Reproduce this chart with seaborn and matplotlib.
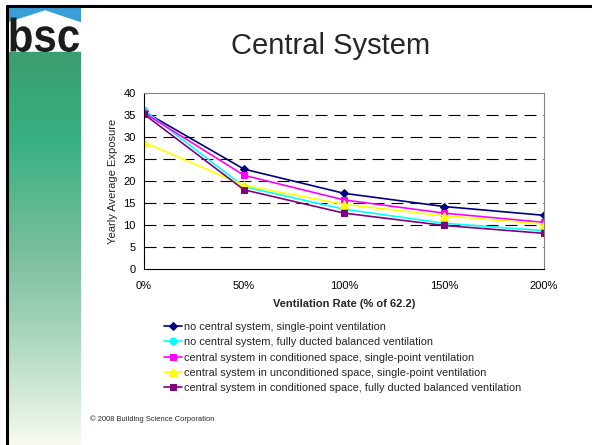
import numpy as np
import pandas as pd
import matplotlib
matplotlib.use("Agg")
import matplotlib.pyplot as plt
import seaborn as sns
from matplotlib.patches import Rectangle, Polygon, PathPatch
from matplotlib.lines import Line2D
from matplotlib.textpath import TextPath
from matplotlib.font_manager import FontProperties
from matplotlib.transforms import Affine2D

rates = [0, 50, 100, 150, 200]
rate_labels = ["0%", "50%", "100%", "150%", "200%"]
series_names = [
    "no central system, single-point ventilation",
    "no central system, fully ducted balanced ventilation",
    "central system in conditioned space, single-point ventilation",
    "central system in unconditioned space, single-point ventilation",
    "central system in conditioned space, fully ducted balanced ventilation",
]
s_nocentral_single = [35.8, 22.7, 17.2, 14.2, 12.2]
s_nocentral_ducted = [36.1, 18.7, 13.6, 10.4, 8.7]
s_cond_single = [35.5, 21.3, 15.7, 12.7, 10.6]
s_uncond_single = [28.8, 19.0, 14.7, 12.1, 10.2]
s_cond_ducted = [35.2, 18.0, 12.7, 9.9, 8.1]
values = [s_nocentral_single, s_nocentral_ducted, s_cond_single, s_uncond_single, s_cond_ducted]

colors = ["#000080", "#00FFFF", "#FF00FF", "#FFFF00", "#800080"]
markers = ["D", "o", "s", "^", "s"]
msizes = [4, 5, 5, 5.5, 5]

sns.set_style("white")
plt.rcParams["font.family"] = ["Liberation Sans", "DejaVu Sans"]

W, H = 592, 445
fig = plt.figure(figsize=(W / 100, H / 100), dpi=100)


def fx(px):
    return px / W


def fy(py):
    return 1 - py / H


# slide border
fig.add_artist(Line2D([fx(7), fx(592)], [fy(6), fy(6)], color="black", lw=2.2, transform=fig.transFigure))
fig.add_artist(Line2D([fx(7), fx(7)], [fy(6), fy(445)], color="black", lw=2.2, transform=fig.transFigure))

# sidebar gradient (pixels 55..445)
sb = fig.add_axes([fx(8), 0, fx(81) - fx(8), fy(55)])
sb.set_axis_off()
ypix = np.linspace(55, 445, 300)
stops_y = [55, 90, 140, 250, 330, 400, 445]
stops_c = np.array([
    [0x3b, 0x9e, 0x70],
    [0x3a, 0xa6, 0x78],
    [0x38, 0xb0, 0x82],
    [0x78, 0xbe, 0x9c],
    [0xa6, 0xd4, 0xbc],
    [0xd6, 0xeb, 0xdb],
    [0xf8, 0xfb, 0xf2],
]) / 255
grad = np.stack([np.interp(ypix, stops_y, stops_c[:, k]) for k in range(3)], axis=1)
sb.imshow(grad[:, None, :].repeat(2, axis=1), aspect="auto", extent=[0, 1, 0, 1], origin="upper")
sb.set_xlim(0, 1)
sb.set_ylim(0, 1)

# logo (pixels y 7..56)
lg = fig.add_axes([fx(8), fy(56), fx(81) - fx(8), fy(7) - fy(56)])
lg.set_axis_off()
lg.set_xlim(8, 81)
lg.set_ylim(56, 7)
lg.add_patch(Rectangle((8, 7), 73, 49, color="white"))
lg.add_patch(Rectangle((8, 7), 73, 16, color="#3a9ed8"))
lg.add_patch(Polygon([[8, 23], [45, 11], [81, 23], [81, 30], [8, 30]], color="white"))
lg.add_patch(Rectangle((8, 52), 73, 4, color="#3b9e70"))
tp = TextPath((0, 0), "bsc", size=1, prop=FontProperties(family="Liberation Sans", weight="bold"))
ext = tp.get_extents()
x0, x1, y0, y1 = 10.5, 79, 17.5, 52
tr = (Affine2D().translate(-ext.x0, -ext.y0)
      .scale((x1 - x0) / ext.width, -(y1 - y0) / ext.height)
      .translate(x0, y1))
lg.add_patch(PathPatch(tr.transform_path(tp), color="#1c1c1c", lw=0))

# title
fig.text(fx(331), fy(46), "Central System", ha="center", va="center", fontsize=21)

# main axes
ax = fig.add_axes([fx(144), fy(269), fx(544) - fx(144), fy(93) - fy(269)])
for name, vals, c, m, ms in zip(series_names, values, colors, markers, msizes):
    df = pd.DataFrame({"rate": rates, "val": vals})
    sns.lineplot(data=df, x="rate", y="val", ax=ax, color=c, marker=m, markersize=ms,
                 markeredgecolor=c, linewidth=1.2, label=name)

ax.set_xlim(0, 200)
ax.set_ylim(0, 40)
ax.set_xticks(rates)
ax.set_xticklabels(rate_labels)
ax.set_yticks(range(0, 41, 5))
ax.tick_params(axis="both", labelsize=8, direction="out", length=3, width=0.8, colors="black")
ax.tick_params(axis="y", pad=3)
ax.tick_params(axis="x", pad=5.5)
for yv in range(5, 40, 5):
    ax.axhline(yv, color="black", lw=0.8, ls=(0, (10.8, 6.3)), zorder=0)
ax.spines["left"].set_color("black")
ax.spines["bottom"].set_color("black")
ax.spines["top"].set_color("#808080")
ax.spines["right"].set_color("#808080")
for s in ax.spines.values():
    s.set_linewidth(0.8)
ax.set_xlabel("Ventilation Rate (% of 62.2)", fontsize=8, fontweight="bold", labelpad=5.8)
ax.set_ylabel("Yearly Average Exposure", fontsize=8, labelpad=4)

leg = ax.legend(loc="upper left", fontsize=7.9, frameon=False,
                handlelength=1.6, handletextpad=0.2, labelspacing=0.48, borderaxespad=0,
                borderpad=0)
leg.set_bbox_to_anchor((fx(164), fy(322)), transform=fig.transFigure)

fig.text(fx(90), fy(419), "© 2008 Building Science Corporation", fontsize=5.4, va="center", ha="left")

fig.savefig("out.png", dpi=100)
